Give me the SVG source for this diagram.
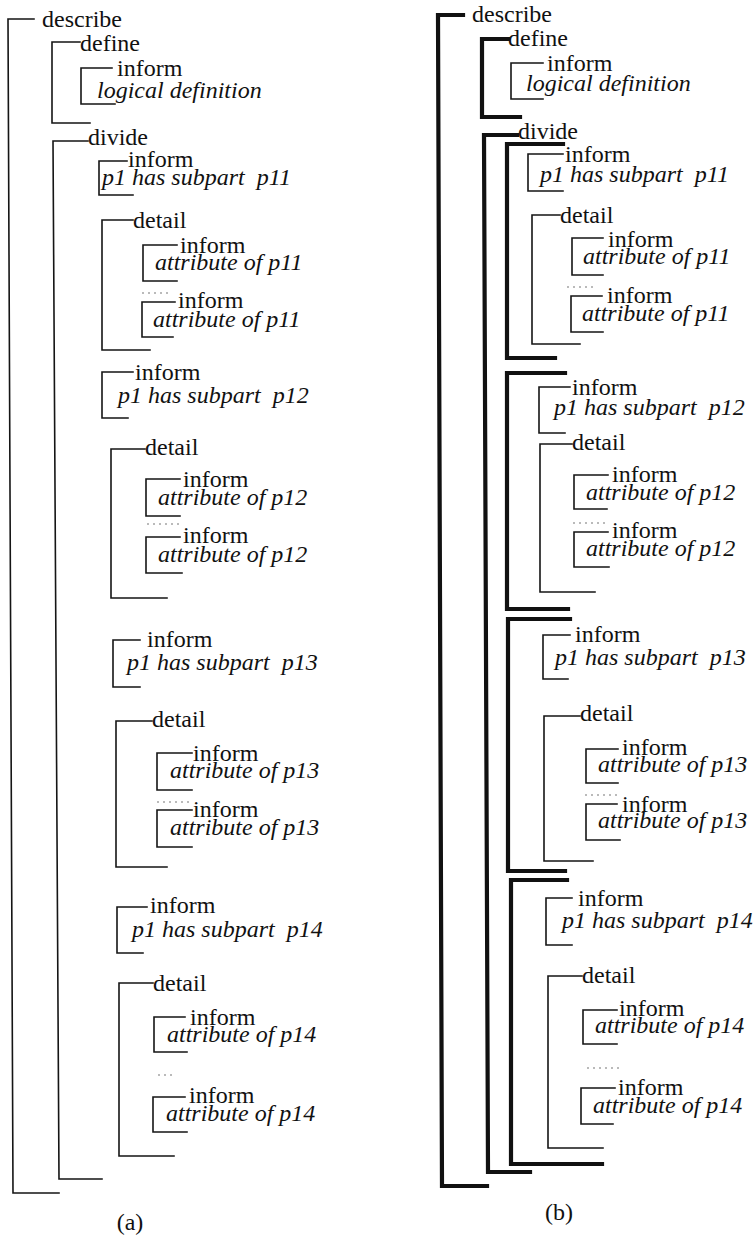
<svg xmlns="http://www.w3.org/2000/svg" width="756" height="1237" viewBox="0 0 756 1237">
<style>
text{font-family:"Liberation Serif","Times New Roman",serif;font-size:24px;fill:#111}
.i{font-style:italic}
.c{fill:none;stroke:#151515;stroke-width:1.6;stroke-linecap:square}
.t{fill:none;stroke:#111;stroke-width:4.2;stroke-linecap:square}
.d{fill:none;stroke:#777;stroke-width:1.2;stroke-dasharray:2 4}
</style>
<rect width="756" height="1237" fill="#fff"/>
<g id="connectors">
<!-- panel a -->
<path class="c" d="M34,19 H8 L13,1193 H59"/>
<path class="c" d="M80,42 H52 V123 H90"/>
<path class="c" d="M112,68 H81 V104 H115"/>
<path class="c" d="M88,141 H53 L59,1179 H102"/>
<path class="c" d="M127,161 H99 V195 H133"/>
<path class="c" d="M133,220 H102 V350 H150"/>
<path class="c" d="M177,245 H143 V281 H177"/>
<path class="d" d="M142,293 H170"/>
<path class="c" d="M175,302 H142 V337 H173"/>
<path class="c" d="M133,372 H102 V418 H128"/>
<path class="c" d="M145,449 H111 V598 H167"/>
<path class="c" d="M180,479 H146 V516 H180"/>
<path class="d" d="M147,524 H180"/>
<path class="c" d="M180,537 H146 V573 H182"/>
<path class="c" d="M140,640 H113 V687 H140"/>
<path class="c" d="M152,721 H116 V867 H167"/>
<path class="c" d="M192,753 H157 V790 H192"/>
<path class="d" d="M157,802 H190"/>
<path class="c" d="M192,810 H157 V847 H192"/>
<path class="c" d="M147,907 H117 V953 H143"/>
<path class="c" d="M153,983 H119 V1156 H174"/>
<path class="c" d="M185,1017 H154 V1052 H187"/>
<path class="d" d="M158,1075 H172"/>
<path class="c" d="M185,1097 H153 V1132 H187"/>
<!-- panel b thick -->
<path class="t" d="M463,15 H438 L442,1186 H487"/>
<path class="t" d="M508,39 H482 V117 H520"/>
<path class="t" d="M517,135 H484 L488,1172 H530"/>
<path class="t" d="M563,144 H507 V358 H555"/>
<path class="t" d="M565,373 H507 V609 H568"/>
<path class="t" d="M570,619 H508 V871 H565"/>
<path class="t" d="M567,880 H511 V1164 H602"/>
<!-- panel b thin -->
<path class="c" d="M543,63 H511 V99 H543"/>
<path class="c" d="M563,154 H528 V191 H563"/>
<path class="c" d="M560,215 H532 V344 H580"/>
<path class="c" d="M603,238 H572 V275 H603"/>
<path class="d" d="M567,287 H595"/>
<path class="c" d="M602,296 H571 V332 H603"/>
<path class="c" d="M570,387 H539 V433 H565"/>
<path class="c" d="M572,444 H540 V592 H595"/>
<path class="c" d="M608,475 H574 V509 H607"/>
<path class="d" d="M573,523 H608"/>
<path class="c" d="M608,532 H574 V567 H609"/>
<path class="c" d="M570,635 H543 V679 H568"/>
<path class="c" d="M580,716 H544 V861 H593"/>
<path class="c" d="M618,749 H586 V783 H618"/>
<path class="d" d="M585,795 H617"/>
<path class="c" d="M617,804 H586 V840 H620"/>
<path class="c" d="M572,898 H546 V945 H572"/>
<path class="c" d="M582,976 H548 V1148 H603"/>
<path class="c" d="M617,1010 H583 V1044 H617"/>
<path class="d" d="M587,1068 H620"/>
<path class="c" d="M615,1088 H581 V1124 H613"/>
</g>
<!-- panel a nodes -->
<g id="a-describe"><text x="42" y="27">describe</text></g>
<g id="a-define"><text x="80" y="51">define</text></g>
<g id="a-inform-def"><text x="117" y="76">inform</text><text class="i" x="97" y="98">logical definition</text></g>
<g id="a-divide"><text x="88" y="145">divide</text></g>
<g id="a-inform-p11"><text x="128" y="167">inform</text><text class="i" x="102" y="185" xml:space="preserve">p1 has subpart  p11</text></g>
<g id="a-detail-p11"><text x="133" y="228">detail</text></g>
<g id="a-attr-p11-1"><text x="180" y="253">inform</text><text class="i" x="155" y="270">attribute of p11</text></g>
<g id="a-attr-p11-2"><text x="178" y="308">inform</text><text class="i" x="153" y="327">attribute of p11</text></g>
<g id="a-inform-p12"><text x="135" y="380">inform</text><text class="i" x="118" y="403" xml:space="preserve">p1 has subpart  p12</text></g>
<g id="a-detail-p12"><text x="145" y="455">detail</text></g>
<g id="a-attr-p12-1"><text x="183" y="487">inform</text><text class="i" x="158" y="505">attribute of p12</text></g>
<g id="a-attr-p12-2"><text x="183" y="543">inform</text><text class="i" x="158" y="562">attribute of p12</text></g>
<g id="a-inform-p13"><text x="147" y="647">inform</text><text class="i" x="127" y="670" xml:space="preserve">p1 has subpart  p13</text></g>
<g id="a-detail-p13"><text x="152" y="727">detail</text></g>
<g id="a-attr-p13-1"><text x="193" y="761">inform</text><text class="i" x="170" y="778">attribute of p13</text></g>
<g id="a-attr-p13-2"><text x="193" y="817">inform</text><text class="i" x="170" y="835">attribute of p13</text></g>
<g id="a-inform-p14"><text x="150" y="913">inform</text><text class="i" x="132" y="937" xml:space="preserve">p1 has subpart  p14</text></g>
<g id="a-detail-p14"><text x="153" y="991">detail</text></g>
<g id="a-attr-p14-1"><text x="190" y="1025">inform</text><text class="i" x="167" y="1042">attribute of p14</text></g>
<g id="a-attr-p14-2"><text x="189" y="1103">inform</text><text class="i" x="166" y="1121">attribute of p14</text></g>
<g id="a-caption"><text x="130" y="1230" text-anchor="middle">(a)</text></g>
<!-- panel b nodes -->
<g id="b-describe"><text x="472" y="22">describe</text></g>
<g id="b-define"><text x="508" y="46">define</text></g>
<g id="b-inform-def"><text x="547" y="71">inform</text><text class="i" x="526" y="91">logical definition</text></g>
<g id="b-divide"><text x="518" y="139">divide</text></g>
<g id="b-inform-p11"><text x="565" y="162">inform</text><text class="i" x="540" y="182" xml:space="preserve">p1 has subpart  p11</text></g>
<g id="b-detail-p11"><text x="560" y="223">detail</text></g>
<g id="b-attr-p11-1"><text x="608" y="247">inform</text><text class="i" x="583" y="264">attribute of p11</text></g>
<g id="b-attr-p11-2"><text x="607" y="303">inform</text><text class="i" x="582" y="321">attribute of p11</text></g>
<g id="b-inform-p12"><text x="572" y="395">inform</text><text class="i" x="554" y="415" xml:space="preserve">p1 has subpart  p12</text></g>
<g id="b-detail-p12"><text x="572" y="450">detail</text></g>
<g id="b-attr-p12-1"><text x="612" y="482">inform</text><text class="i" x="586" y="500">attribute of p12</text></g>
<g id="b-attr-p12-2"><text x="612" y="538">inform</text><text class="i" x="586" y="556">attribute of p12</text></g>
<g id="b-inform-p13"><text x="575" y="642">inform</text><text class="i" x="555" y="665" xml:space="preserve">p1 has subpart  p13</text></g>
<g id="b-detail-p13"><text x="580" y="721">detail</text></g>
<g id="b-attr-p13-1"><text x="622" y="755">inform</text><text class="i" x="598" y="772">attribute of p13</text></g>
<g id="b-attr-p13-2"><text x="622" y="812">inform</text><text class="i" x="598" y="828">attribute of p13</text></g>
<g id="b-inform-p14"><text x="578" y="906">inform</text><text class="i" x="562" y="928" xml:space="preserve">p1 has subpart  p14</text></g>
<g id="b-detail-p14"><text x="582" y="983">detail</text></g>
<g id="b-attr-p14-1"><text x="619" y="1016">inform</text><text class="i" x="595" y="1033">attribute of p14</text></g>
<g id="b-attr-p14-2"><text x="618" y="1095">inform</text><text class="i" x="593" y="1113">attribute of p14</text></g>
<g id="b-caption"><text x="559" y="1220" text-anchor="middle">(b)</text></g>
</svg>
